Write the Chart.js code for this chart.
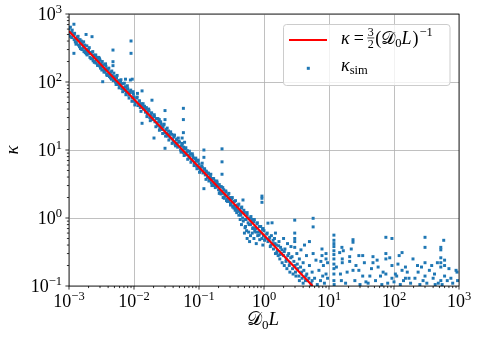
<!DOCTYPE html>
<html>
<head>
<meta charset="utf-8">
<script src="https://cdn.jsdelivr.net/npm/chart.js@4.4.1/dist/chart.umd.min.js"></script>
<style>
  html, body { margin: 0; padding: 0; background: #fff; }
</style>
</head>
<body>
<canvas id="grafico" width="477" height="340"></canvas>
<script>
// axis limits and decade ticks
const xLimites = [1e-3, 1e3];
const yLimites = [1e-1, 1e3];
const decadasX = [-3, -2, -1, 0, 1, 2, 3];
const decadasY = [-1, 0, 1, 2, 3];

// fitted line kappa = 3/2 (D0 L)^-1 (end points)
const lineaX = [1e-3, 5.6];
const lineaY = [560, 0.1];

// simulated kappa, [D0L, kappa], grouped by decade
const simDecada1 = [[1.0e-3,600],[1.0e-3,520],[1.05e-3,640],[1.1e-3,540],[1.1e-3,450],[1.15e-3,480],[1.2e-3,500],[1.2e-3,420],[1.19e-3,707],[1.19e-3,264],[1.25e-3,390],[1.3e-3,430],[1.3e-3,380],[1.35e-3,460],[1.4e-3,420],[1.4e-3,350],[1.45e-3,330],[1.5e-3,360],[1.5e-3,310],[1.55e-3,400],[1.6e-3,370],[1.6e-3,300],[1.65e-3,320],[1.7e-3,330],[1.7e-3,280],[1.75e-3,350],[1.8e-3,290],[1.83e-3,500],[1.85e-3,260],[1.9e-3,300],[1.9e-3,250],[1.95e-3,280],[2.0e-3,260],[2.0e-3,300],[2.1e-3,230],[2.15e-3,270],[2.2e-3,270],[2.26e-3,464],[2.3e-3,220],[2.35e-3,205],[2.4e-3,250],[2.5e-3,200],[2.5e-3,240],[2.6e-3,190],[2.65e-3,215],[2.7e-3,230],[2.8e-3,180],[2.9e-3,200],[2.95e-3,220],[3.0e-3,170],[3.0e-3,210],[3.1e-3,185],[3.2e-3,150],[3.3e-3,101],[3.3e-3,165],[3.4e-3,180],[3.5e-3,150],[3.6e-3,140],[3.7e-3,170],[3.8e-3,130],[3.9e-3,155],[4.0e-3,150],[4.0e-3,125],[4.2e-3,120],[4.3e-3,135],[4.4e-3,140],[4.5e-3,110],[4.6e-3,125],[4.75e-3,295],[4.75e-3,199],[4.75e-3,174],[4.8e-3,105],[5.0e-3,120],[5.1e-3,108],[5.2e-3,100],[5.4e-3,115],[5.6e-3,92],[5.7e-3,102],[5.8e-3,105],[6.0e-3,88],[6.2e-3,100],[6.4e-3,93],[6.5e-3,80],[6.8e-3,95],[7.0e-3,75],[7.2e-3,84],[7.4e-3,110],[7.4e-3,85],[7.6e-3,70],[7.8e-3,78],[8.0e-3,80],[8.3e-3,64],[8.5e-3,72],[8.8e-3,107],[8.8e-3,70],[9.0e-3,401],[9.0e-3,264],[9.4e-3,110],[9.5e-3,58],[9.8e-3,66],
    [1.02e-3,470],[1.12e-3,580],[1.22e-3,520],[1.28e-3,360],[1.38e-3,470],[1.48e-3,420],[1.58e-3,300],[1.68e-3,390],[1.78e-3,270],[1.88e-3,340],[2.05e-3,320],[2.18e-3,220],[2.32e-3,280],[2.45e-3,195],[2.58e-3,250],[2.75e-3,175],[2.88e-3,230],[3.05e-3,160],[3.25e-3,200],[3.45e-3,140],[3.65e-3,185],[3.85e-3,125],[4.1e-3,160],[4.35e-3,115],[4.55e-3,145],[4.9e-3,135],[5.3e-3,92],[5.5e-3,125],[5.9e-3,82],[6.3e-3,108],[6.7e-3,72],[7.1e-3,96],[7.5e-3,65],[7.9e-3,88],[8.4e-3,58],[8.9e-3,76],[9.3e-3,52],[9.7e-3,72]];

const simDecada2 = [[1.0e-2,60],[1.02e-2,52],[1.05e-2,50],[1.1e-2,58],[1.13e-2,68],[1.15e-2,45],[1.2e-2,52],[1.22e-2,47],[1.25e-2,42],[1.3e-2,48],[1.33e-2,74],[1.33e-2,24.7],[1.35e-2,44],[1.4e-2,40],[1.45e-2,44],[1.5e-2,36],[1.52e-2,40],[1.55e-2,42],[1.6e-2,34],[1.65e-2,37],[1.7e-2,38],[1.75e-2,30],[1.8e-2,33],[1.85e-2,35],[1.89e-2,54],[1.9e-2,28],[2.0e-2,31],[2.03e-2,15],[2.05e-2,33],[2.1e-2,26],[2.2e-2,29],[2.25e-2,25],[2.3e-2,23],[2.4e-2,26],[2.45e-2,28],[2.5e-2,21],[2.6e-2,24],[2.65e-2,22],[2.7e-2,20],[2.8e-2,22],[2.9e-2,24],[3.0e-2,38],[3.0e-2,28],[3.0e-2,10.6],[3.0e-2,18],[3.1e-2,20],[3.2e-2,17.5],[3.3e-2,16],[3.4e-2,19],[3.5e-2,17],[3.6e-2,15],[3.8e-2,17],[3.9e-2,14.5],[4.0e-2,13],[4.1e-2,15.5],[4.2e-2,16.5],[4.3e-2,12],[4.5e-2,14],[4.6e-2,12.5],[4.7e-2,11],[4.8e-2,15],[5.0e-2,13],[5.2e-2,10],[5.3e-2,11.5],[5.5e-2,12],[5.5e-2,15],[5.75e-2,41],[5.75e-2,28],[5.75e-2,18],[5.75e-2,9.2],[5.8e-2,11],[6.0e-2,10.5],[6.0e-2,13],[6.3e-2,8.5],[6.5e-2,9.3],[6.6e-2,9.8],[7.0e-2,7.6],[7.1e-2,8.3],[7.3e-2,8.8],[7.7e-2,7.0],[8.0e-2,8.2],[8.2e-2,7.6],[8.5e-2,6.4],[8.8e-2,7.5],[9.0e-2,6.9],[9.2e-2,5.8],[9.6e-2,6.8],[9.9e-2,5.4],
    [1.03e-2,46],[1.12e-2,60],[1.21e-2,53],[1.28e-2,37],[1.38e-2,48],[1.47e-2,41],[1.58e-2,31],[1.68e-2,40],[1.78e-2,27],[1.87e-2,35],[2.06e-2,31],[2.17e-2,22],[2.33e-2,29],[2.46e-2,19.5],[2.57e-2,26],[2.76e-2,17.5],[2.87e-2,23.5],[3.06e-2,16],[3.24e-2,21],[3.44e-2,14],[3.66e-2,18.5],[3.86e-2,12.5],[4.12e-2,16.5],[4.36e-2,11.5],[4.54e-2,14.5],[4.92e-2,13.5],[5.3e-2,9.3],[5.52e-2,12.5],[5.9e-2,8.3],[6.28e-2,10.8],[6.7e-2,7.3],[7.12e-2,9.6],[7.52e-2,6.6],[7.9e-2,8.8],[8.4e-2,5.9],[8.92e-2,7.6],[9.3e-2,5.3],[9.72e-2,7.1]];

const simDecada3 = [[0.10,6.2],[0.102,5.5],[0.105,5.0],[0.11,5.8],[0.112,6.4],[0.115,4.6],[0.119,10],[0.119,7.8],[0.119,2.7],[0.12,5.2],[0.125,4.3],[0.128,4.9],[0.13,4.8],[0.135,3.9],[0.14,4.5],[0.142,3.5],[0.145,3.6],[0.15,4.0],[0.152,4.4],[0.155,3.3],[0.16,3.8],[0.165,3.0],[0.17,3.1],[0.175,3.5],[0.18,2.9],[0.185,3.2],[0.19,3.3],[0.2,2.6],[0.2,3.0],[0.205,2.3],[0.21,2.4],[0.22,2.9],[0.226,10.4],[0.226,6.7],[0.226,4.4],[0.23,2.3],[0.235,2.0],[0.24,2.6],[0.25,2.1],[0.26,2.4],[0.265,1.8],[0.27,1.9],[0.28,2.2],[0.29,1.8],[0.3,2.0],[0.305,1.55],[0.31,1.6],[0.32,1.9],[0.33,1.45],[0.34,1.5],[0.35,1.75],[0.36,1.3],[0.37,1.4],[0.38,1.2],[0.39,1.55],[0.4,1.5],[0.41,1.1],[0.42,1.25],[0.43,0.95],[0.44,1.1],[0.45,1.4],[0.45,0.8],[0.46,1.2],[0.475,1.84],[0.47,1.0],[0.48,0.9],[0.5,1.2],[0.5,0.6],[0.51,0.72],[0.52,0.95],[0.52,0.75],[0.54,0.65],[0.55,1.1],[0.55,0.5],[0.57,0.85],[0.58,0.62],[0.6,1.0],[0.6,0.45],[0.62,0.8],[0.62,0.55],[0.64,0.9],[0.65,0.95],[0.66,0.6],[0.68,0.72],[0.7,0.88],[0.7,0.5],[0.72,0.64],[0.74,0.7],[0.76,0.42],[0.78,0.82],[0.8,0.55],[0.82,0.62],[0.85,0.75],[0.86,0.48],[0.9,0.6],[0.93,1.95],[0.93,1.7],[0.93,2.1],[0.95,0.68],[0.96,0.4],[0.98,0.55],
    [0.102,4.7],[0.112,5.6],[0.122,5.3],[0.128,3.7],[0.138,4.6],[0.148,4.3],[0.158,3.0],[0.168,3.8],[0.178,2.8],[0.188,3.5],[0.205,3.1],[0.218,2.25],[0.232,2.8],[0.245,1.95],[0.258,2.5],[0.275,1.75],[0.288,2.3],[0.305,1.65],[0.325,2.0],[0.345,1.4],[0.365,1.8],[0.385,1.3],[0.41,1.6],[0.435,1.15],[0.455,1.45],[0.49,1.3],[0.53,0.95],[0.55,1.2],[0.59,0.8],[0.63,1.05],[0.67,0.7],[0.71,0.95],[0.75,0.62],[0.79,0.85],[0.84,0.56],[0.89,0.75],[0.93,0.5],[0.97,0.7]];

const simDecada4 = [[1.0,0.65],[1.05,0.5],[1.1,0.58],[1.15,0.84],[1.15,0.45],[1.2,0.48],[1.25,0.38],[1.33,0.85],[1.3,0.55],[1.35,0.42],[1.4,0.35],[1.45,0.5],[1.5,0.3],[1.5,0.6],[1.55,0.4],[1.6,0.33],[1.65,0.28],[1.7,0.45],[1.75,0.25],[1.8,0.37],[1.85,0.3],[1.9,0.22],[2.0,0.5],[2.0,0.28],[2.05,0.2],[2.1,0.35],[2.2,0.25],[2.25,0.18],[2.3,0.42],[2.4,0.3],[2.5,0.16],[2.5,0.22],[2.6,0.38],[2.7,0.27],[2.8,0.15],[2.97,0.93],[2.97,0.6],[2.97,0.5],[2.97,0.45],[2.97,0.37],[3.0,0.2],[3.1,0.14],[3.2,0.3],[3.3,0.18],[3.5,0.12],[3.5,0.25],[3.7,0.34],[3.8,0.16],[4.0,0.11],[4.0,0.22],[4.2,0.4],[4.4,0.14],[4.5,0.28],[4.7,0.12],[5.0,0.2],[5.0,0.45],[5.3,0.11],[5.5,0.16],[5.7,0.99],[5.7,0.74],[5.7,0.3],[6.0,0.13],[6.3,0.24],[6.6,0.105],[7.0,0.17],[7.4,0.12],[7.5,0.23],[7.8,0.35],[7.8,0.28],[8.0,0.14],[8.2,0.2],[8.5,0.11],[9.0,0.3],[9.0,0.25],[9.0,0.15],[9.5,0.22],[9.5,0.13],
    [1.02,0.47],[1.12,0.6],[1.22,0.52],[1.28,0.4],[1.38,0.47],[1.48,0.42],[1.58,0.31],[1.68,0.39],[1.78,0.29],[1.88,0.34],[2.05,0.32],[2.18,0.23],[2.32,0.28],[2.45,0.2],[2.58,0.26],[2.75,0.18],[2.88,0.23],[3.05,0.16],[3.25,0.21],[3.45,0.14],[3.65,0.19],[3.85,0.13],[4.1,0.17],[4.35,0.12],[4.55,0.15],[4.9,0.13],[5.3,0.1],[5.5,0.12]];

const simCola = [[11.9,0.56],[11.9,0.47],[11.9,0.42],[11.9,0.38],[11.9,0.33],[11.9,0.29],[11.9,0.25],[11.9,0.21],[11.9,0.18],[11.9,0.15],[11.9,0.12],[12,0.105],[13,0.19],[14.6,0.31],[15.8,0.37],[16.6,0.33],[16,0.25],[16,0.22],[15,0.15],[15.5,0.12],[18,0.11],[19,0.16],[20.8,0.23],[20.8,0.27],[22,0.35],[23.4,0.48],[23.4,0.44],[23.4,0.17],[25,0.12],[26,0.2],[28.8,0.28],[28.8,0.17],[30,0.105],[33,0.28],[33,0.14],[35,0.22],[37,0.115],[40,0.11],[42.5,0.14],[45,0.18],[47.5,0.27],[47.5,0.22],[52,0.12],[55,0.24],[57,0.19],[62,0.14],[65,0.105],[68,0.16],[75,0.52],[75,0.3],[75,0.25],[75,0.15],[80,0.11],[86,0.26],[93,0.5],[93,0.2],[93,0.13],[100,0.115],[105,0.15],[110,0.14],[115,0.21],[120,0.28],[125,0.105],[133,0.31],[133,0.17],[140,0.12],[150,0.19],[150,0.13],[160,0.16],[170,0.13],[180,0.11],[196,0.25],[210,0.13],[230,0.2],[235,0.16],[250,0.105],[265,0.19],[280,0.12],[300,0.52],[300,0.37],[300,0.22],[300,0.14],[320,0.11],[350,0.17],[380,0.2],[400,0.13],[420,0.15],[430,0.105],[465,0.22],[480,0.11],[525,0.37],[525,0.34],[525,0.26],[525,0.22],[525,0.19],[525,0.12],[550,0.105],[582,0.47],[600,0.24],[600,0.2],[600,0.14],[660,0.12],[700,0.18],[750,0.13],[800,0.11],[900,0.17],[931,0.16],[950,0.12]];

const puntosSim = [...simDecada1, ...simDecada2, ...simDecada3, ...simDecada4, ...simCola]
    .map(p => ({ x: p[0], y: p[1] }));
const puntosLinea = lineaX.map((x, i) => ({ x: x, y: lineaY[i] }));

const SERIF = '"Liberation Serif", "DejaVu Serif", serif';
const AZUL = '#1f77b4';

function fuente(size, italic) {
    return (italic ? 'italic ' : '') + size + 'px ' + SERIF;
}

// draws a run of text pieces left to right, returns end x
function dibujarTramos(ctx, tramos, x, base) {
    tramos.forEach(t => {
        ctx.font = fuente(t.size, t.italic);
        ctx.fillText(t.t, x + (t.dx || 0), base + (t.dy || 0));
        x += ctx.measureText(t.t).width + (t.dx || 0) + (t.gap || 0);
    });
    return x;
}
function anchoTramos(ctx, tramos) {
    let w = 0;
    tramos.forEach(t => {
        ctx.font = fuente(t.size, t.italic);
        w += ctx.measureText(t.t).width + (t.dx || 0) + (t.gap || 0);
    });
    return w;
}
function potencia(e) {
    return [{ t: '10', size: 18 }, { t: String(e).replace('-', '\u2212'), size: 12.5, dy: -7 }];
}

const decoraciones = {
    id: 'decoraciones',
    afterDraw(chart) {
        const ctx = chart.ctx;
        const a = chart.chartArea;
        const sx = chart.scales.x, sy = chart.scales.y;
        ctx.save();
        ctx.fillStyle = '#000';
        ctx.strokeStyle = '#000';
        ctx.textBaseline = 'alphabetic';

        // frame
        ctx.lineWidth = 0.8;
        ctx.strokeRect(a.left, a.top, a.right - a.left, a.bottom - a.top);

        // ticks
        ctx.beginPath();
        decadasX.forEach(e => {
            const px = sx.getPixelForValue(Math.pow(10, e));
            ctx.moveTo(px, a.bottom); ctx.lineTo(px, a.bottom + 3.6);
            if (e < decadasX[decadasX.length - 1]) {
                for (let m = 2; m <= 9; m++) {
                    const q = sx.getPixelForValue(m * Math.pow(10, e));
                    ctx.moveTo(q, a.bottom); ctx.lineTo(q, a.bottom + 2.1);
                }
            }
        });
        decadasY.forEach(e => {
            const py = sy.getPixelForValue(Math.pow(10, e));
            ctx.moveTo(a.left, py); ctx.lineTo(a.left - 3.6, py);
            if (e < decadasY[decadasY.length - 1]) {
                for (let m = 2; m <= 9; m++) {
                    const q = sy.getPixelForValue(m * Math.pow(10, e));
                    ctx.moveTo(a.left, q); ctx.lineTo(a.left - 2.1, q);
                }
            }
        });
        ctx.stroke();

        // tick labels
        decadasX.forEach(e => {
            const px = sx.getPixelForValue(Math.pow(10, e));
            const tr = potencia(e);
            dibujarTramos(ctx, tr, px - anchoTramos(ctx, tr) / 2, 306.5);
        });
        decadasY.forEach(e => {
            const py = sy.getPixelForValue(Math.pow(10, e));
            const tr = potencia(e);
            dibujarTramos(ctx, tr, 62 - anchoTramos(ctx, tr), py + 6);
        });

        // axis titles
        const tituloX = [{ t: '\uD835\uDC9F', size: 19 }, { t: '0', size: 13, dy: 4 }, { t: 'L', size: 19, italic: true }];
        dibujarTramos(ctx, tituloX, 263 - anchoTramos(ctx, tituloX) / 2, 325);
        ctx.save();
        ctx.translate(18, 150);
        ctx.rotate(-Math.PI / 2);
        ctx.font = fuente(19, true);
        ctx.textAlign = 'center';
        ctx.fillText('\u03BA', 0, 0);
        ctx.restore();

        // legend
        ctx.beginPath();
        ctx.roundRect(283.5, 24.5, 166.5, 61, 3);
        ctx.fillStyle = 'rgba(255,255,255,0.8)';
        ctx.fill();
        ctx.strokeStyle = '#cccccc';
        ctx.lineWidth = 1;
        ctx.stroke();

        ctx.strokeStyle = '#ff0000';
        ctx.lineWidth = 2;
        ctx.beginPath();
        ctx.moveTo(289, 40); ctx.lineTo(327, 40);
        ctx.stroke();
        ctx.fillStyle = AZUL;
        ctx.fillRect(306.8, 66.8, 3, 3);

        ctx.fillStyle = '#000';
        let x = dibujarTramos(ctx, [{ t: '\u03BA', size: 18, italic: true, gap: 4 }, { t: '=', size: 18, gap: 4 }], 341, 43.5);
        // fraction 3/2
        ctx.font = fuente(12, false);
        const wf = ctx.measureText('3').width;
        ctx.fillText('3', x, 35.5);
        ctx.fillText('2', x, 47.5);
        ctx.fillRect(x - 0.5, 37.6, wf + 1, 0.7);
        x += wf + 1.5;
        dibujarTramos(ctx, [
            { t: '(', size: 18 },
            { t: '\uD835\uDC9F', size: 18 },
            { t: '0', size: 12.5, dy: 3.5 },
            { t: 'L', size: 18, italic: true, gap: 1 },
            { t: ')', size: 18, gap: 1 },
            { t: '\u22121', size: 12.5, dy: -8 }
        ], x, 43.5);
        dibujarTramos(ctx, [{ t: '\u03BA', size: 18, italic: true }, { t: 'sim', size: 12.5, dy: 3 }], 341, 70.5);

        ctx.restore();
    }
};

new Chart(document.getElementById('grafico'), {
    type: 'scatter',
    data: {
        datasets: [
            {
                label: '\u03BA = 3/2 (D0 L)^-1',
                data: puntosLinea,
                showLine: true,
                borderColor: '#ff0000',
                borderWidth: 2.1,
                pointRadius: 0,
                pointHoverRadius: 0
            },
            {
                label: '\u03BA sim',
                data: puntosSim,
                pointStyle: 'rect',
                pointRadius: 2.1,
                pointHoverRadius: 2.1,
                pointBorderWidth: 0,
                backgroundColor: AZUL,
                borderColor: AZUL
            }
        ]
    },
    options: {
        responsive: false,
        animation: false,
        devicePixelRatio: 1,
        layout: { padding: { left: 69, right: 18, top: 14, bottom: 54 } },
        plugins: { legend: { display: false }, tooltip: { enabled: false } },
        scales: {
            x: {
                type: 'logarithmic',
                min: xLimites[0],
                max: xLimites[1],
                afterBuildTicks: s => { s.ticks = decadasX.map(e => ({ value: Math.pow(10, e) })); },
                ticks: { display: false },
                grid: { color: '#b0b0b0', lineWidth: 0.8, drawTicks: false },
                border: { display: false }
            },
            y: {
                type: 'logarithmic',
                min: yLimites[0],
                max: yLimites[1],
                afterBuildTicks: s => { s.ticks = decadasY.map(e => ({ value: Math.pow(10, e) })); },
                ticks: { display: false },
                grid: { color: '#b0b0b0', lineWidth: 0.8, drawTicks: false },
                border: { display: false }
            }
        }
    },
    plugins: [decoraciones]
});
</script>
</body>
</html>
